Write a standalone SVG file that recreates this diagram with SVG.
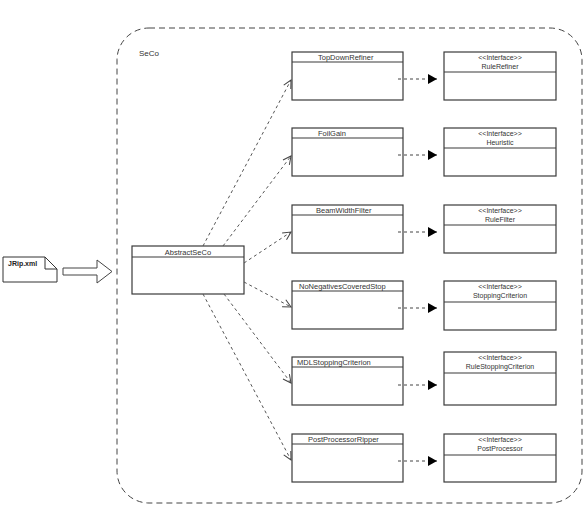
<svg xmlns="http://www.w3.org/2000/svg" width="588" height="511" viewBox="0 0 588 511">
<defs>
<style>
.box{fill:#fff;stroke:#3a3a3a;stroke-width:1.2}
.hdr{stroke:#3a3a3a;stroke-width:1.2}
.t{font-family:"Liberation Sans",Arial,sans-serif;font-size:7.5px;fill:#333}
.ti{font-family:"Liberation Sans",Arial,sans-serif;font-size:7px;fill:#333;text-anchor:middle}
.dep{fill:none;stroke:#555;stroke-width:1;stroke-dasharray:3,3;marker-end:url(#open)}
.real{fill:none;stroke:#444;stroke-width:1;stroke-dasharray:3,3;marker-end:url(#filled)}
</style>
<marker id="open" markerWidth="10" markerHeight="10" refX="9" refY="5" orient="auto" markerUnits="userSpaceOnUse">
<path d="M1,1 L9,5 L1,9" fill="none" stroke="#444" stroke-width="1"/>
</marker>
<marker id="filled" markerWidth="10" markerHeight="11" refX="9" refY="5" orient="auto" markerUnits="userSpaceOnUse">
<path d="M0,0 L9,5 L0,10 z" fill="#000"/>
</marker>
</defs>
<rect width="588" height="511" fill="#fff"/>

<g id="SeCo">
<rect x="117" y="28" width="465" height="475" rx="32" ry="32" fill="none" stroke="#444" stroke-width="1" stroke-dasharray="6,4"/>
<text x="139" y="56" class="t" style="font-size:8px">SeCo</text>
</g>

<g id="JRipxml">
<path d="M3,257 H45 L57,269 V282 H3 Z" fill="#fff" stroke="#333" stroke-width="1"/>
<path d="M45,257 V269 H57" fill="none" stroke="#333" stroke-width="1"/>
<text x="8" y="266" style="font-family:'Liberation Sans',Arial,sans-serif;font-size:7px;font-weight:bold;fill:#222">JRip.xml</text>
</g>

<g id="bigArrow">
<path d="M63,268 H97 V260 L112,271.5 L97,283 V275 H63 Z" fill="#fff" stroke="#444" stroke-width="1"/>
</g>

<g id="AbstractSeCo">
<rect x="132" y="246" width="112" height="48" class="box"/>
<line x1="132" y1="257" x2="244" y2="257" class="hdr"/>
<text x="188" y="254.5" class="t" text-anchor="middle">AbstractSeCo</text>
</g>

<g id="TopDownRefiner">
<rect x="292" y="52" width="111" height="48" class="box"/>
<line x1="292" y1="62" x2="403" y2="62" class="hdr"/>
<text x="318" y="60" class="t">TopDownRefiner</text>
</g>
<g id="FoilGain">
<rect x="292" y="128" width="111" height="48" class="box"/>
<line x1="292" y1="138" x2="403" y2="138" class="hdr"/>
<text x="318" y="136" class="t">FoilGain</text>
</g>
<g id="BeamWidthFilter">
<rect x="292" y="205" width="111" height="48" class="box"/>
<line x1="292" y1="215" x2="403" y2="215" class="hdr"/>
<text x="316" y="213" class="t">BeamWidthFilter</text>
</g>
<g id="NoNegativesCoveredStop">
<rect x="292" y="281" width="111" height="48" class="box"/>
<line x1="292" y1="291" x2="403" y2="291" class="hdr"/>
<text x="299" y="289" class="t">NoNegativesCoveredStop</text>
</g>
<g id="MDLStoppingCriterion">
<rect x="292" y="357" width="111" height="48" class="box"/>
<line x1="292" y1="367" x2="403" y2="367" class="hdr"/>
<text x="297" y="365" class="t">MDLStoppingCriterion</text>
</g>
<g id="PostProcessorRipper">
<rect x="292" y="434" width="111" height="48" class="box"/>
<line x1="292" y1="444" x2="403" y2="444" class="hdr"/>
<text x="308" y="442" class="t">PostProcessorRipper</text>
</g>

<g id="RuleRefiner">
<rect x="444" y="52" width="112" height="48" class="box"/>
<line x1="444" y1="72" x2="556" y2="72" class="hdr"/>
<text x="500" y="60" class="ti">&lt;&lt;Interface&gt;&gt;</text>
<text x="500" y="69" class="ti">RuleRefiner</text>
</g>
<g id="Heuristic">
<rect x="444" y="128" width="112" height="48" class="box"/>
<line x1="444" y1="148" x2="556" y2="148" class="hdr"/>
<text x="500" y="136" class="ti">&lt;&lt;Interface&gt;&gt;</text>
<text x="500" y="145" class="ti">Heuristic</text>
</g>
<g id="RuleFilter">
<rect x="444" y="205" width="112" height="48" class="box"/>
<line x1="444" y1="225" x2="556" y2="225" class="hdr"/>
<text x="500" y="213" class="ti">&lt;&lt;Interface&gt;&gt;</text>
<text x="500" y="222" class="ti">RuleFilter</text>
</g>
<g id="StoppingCriterion">
<rect x="444" y="281" width="112" height="49" class="box"/>
<line x1="444" y1="302" x2="556" y2="302" class="hdr"/>
<text x="500" y="289" class="ti">&lt;&lt;Interface&gt;&gt;</text>
<text x="500" y="298" class="ti">StoppingCriterion</text>
</g>
<g id="RuleStoppingCriterion">
<rect x="444" y="352" width="112" height="53" class="box"/>
<line x1="444" y1="373" x2="556" y2="373" class="hdr"/>
<text x="500" y="360" class="ti">&lt;&lt;Interface&gt;&gt;</text>
<text x="500" y="369" class="ti">RuleStoppingCriterion</text>
</g>
<g id="PostProcessor">
<rect x="444" y="434" width="112" height="48" class="box"/>
<line x1="444" y1="455" x2="556" y2="455" class="hdr"/>
<text x="500" y="442" class="ti">&lt;&lt;Interface&gt;&gt;</text>
<text x="500" y="451" class="ti">PostProcessor</text>
</g>

<g id="connectors">
<line x1="203" y1="246" x2="291" y2="80" class="dep"/>
<line x1="223" y1="246" x2="291" y2="156" class="dep"/>
<line x1="244" y1="263" x2="291" y2="232" class="dep"/>
<line x1="244" y1="282" x2="291" y2="307" class="dep"/>
<line x1="224" y1="294" x2="291" y2="383" class="dep"/>
<line x1="203" y1="294" x2="291" y2="460" class="dep"/>
<line x1="398" y1="79" x2="437" y2="79" class="real"/>
<line x1="398" y1="155" x2="437" y2="155" class="real"/>
<line x1="398" y1="232" x2="437" y2="232" class="real"/>
<line x1="398" y1="308" x2="437" y2="308" class="real"/>
<line x1="398" y1="385" x2="437" y2="385" class="real"/>
<line x1="398" y1="461" x2="437" y2="461" class="real"/>
</g>
</svg>
